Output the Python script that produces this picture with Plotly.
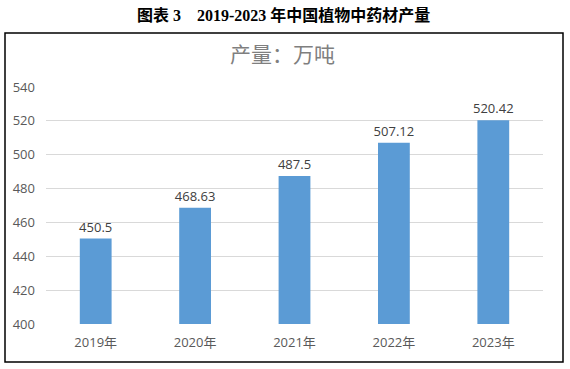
import plotly.graph_objects as go

categories = ["2019年", "2020年", "2021年", "2022年", "2023年"]
values = [450.5, 468.63, 487.5, 507.12, 520.42]
value_labels = ["450.5", "468.63", "487.5", "507.12", "520.42"]
y_ticks = [400, 420, 440, 460, 480, 500, 520, 540]

fig = go.Figure()
fig.add_trace(go.Bar(
    x=categories, y=values, text=value_labels, textposition="outside",
    constraintext="none",
    marker=dict(color="#5B9BD5", line=dict(width=0)),
    textfont=dict(family="Open Sans, Noto Sans CJK SC", size=13, color="#404040"),
    cliponaxis=False,
))

W, H = 570, 369
l, r, t, b = 46, 27, 87, 45
pw = W - l - r
ph = H - t - b

def px(xp):
    return (xp - l) / pw

def py(yp):
    return (H - b - yp) / ph

fig.update_layout(
    width=W, height=H,
    margin=dict(l=l, r=r, t=t, b=b),
    paper_bgcolor="white", plot_bgcolor="white",
    bargap=0.68,
    showlegend=False,
    xaxis=dict(showgrid=False, showline=False, ticks="", ticklabelstandoff=9,
               tickfont=dict(family="Open Sans, Noto Sans CJK SC", size=13, color="#595959")),
    yaxis=dict(range=[400, 540], tickvals=y_ticks, showgrid=True, gridcolor="#D9D9D9",
               gridwidth=1, zeroline=False, showline=False, ticks="", ticklabelstandoff=10,
               tickfont=dict(family="Open Sans, Noto Sans CJK SC", size=13, color="#595959")),
    shapes=[dict(type="rect", xref="paper", yref="paper",
                 x0=px(5), x1=px(563), y0=py(362), y1=py(33),
                 line=dict(color="black", width=1.5), fillcolor="rgba(0,0,0,0)", layer="below")],
    annotations=[
        dict(text="<b>图表 3　2019-2023 年中国植物中药材产量</b>", xref="paper", yref="paper",
             x=px(283), y=py(15), showarrow=False, xanchor="center", yanchor="middle",
             font=dict(family="Liberation Serif, Noto Sans CJK SC", size=16, color="black")),
        dict(text="产量：万吨", xref="paper", yref="paper",
             x=px(282), y=py(53), showarrow=False, xanchor="center", yanchor="middle",
             font=dict(family="Noto Sans CJK SC", size=21, color="#7F7F7F")),
    ],
)

fig.write_html("out.html", config={"displayModeBar": False},
               post_script="document.body.style.margin='0';")
